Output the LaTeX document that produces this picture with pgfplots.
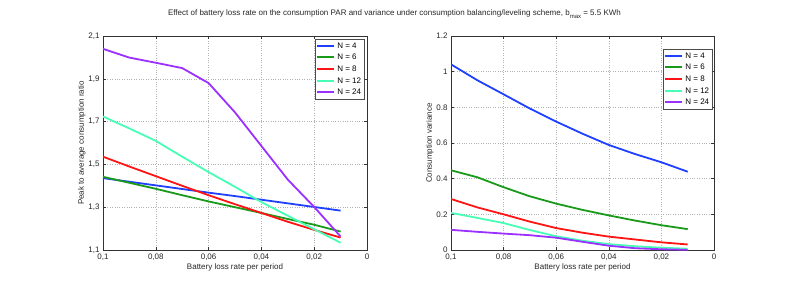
\documentclass[border=0pt]{standalone}
\usepackage{pgfplots}
\pgfplotsset{compat=1.18}
\usepackage{fontspec}
\setmainfont{Liberation Sans}
\definecolor{cN4}{RGB}{32,64,255}
\definecolor{cN6}{RGB}{26,154,26}
\definecolor{cN8}{RGB}{255,20,20}
\definecolor{cN12}{RGB}{70,255,180}
\definecolor{cN24}{RGB}{155,48,255}
\pgfplotsset{
  mstyle/.style={
    scale only axis, width=264pt, height=214pt,
    x dir=reverse, xmin=0, xmax=0.1,
    xtick={0,0.02,0.04,0.06,0.08,0.1},
    xticklabels={0,{0,02},{0,04},{0,06},{0,08},{0,1}},
    tick align=inside, tick pos=both,
    major tick length=3pt,
    axis line style={black!80, line width=0.7pt},
    tick style={black!80, line width=0.5pt},
    grid=major,
    major grid style={black!30, dotted, line width=0.5pt},
    every tick label/.append style={font=\fontsize{8}{9}\selectfont, text=black!85},
    label style={font=\fontsize{8}{9}\selectfont, text=black!85},
    xlabel={Battery loss rate per period},
    xlabel style={yshift=3pt},
    every axis plot/.append style={line width=1.8pt},
    legend cell align=left,
    legend style={font=\fontsize{8}{9}\selectfont, draw=black!70, line width=0.7pt,
      inner xsep=1.5pt, inner ysep=1.5pt, row sep=0.5pt,
      /tikz/every even column/.append style={column sep=0pt}},
    legend image code/.code={\draw[##1, line width=2pt] (0pt,0.4pt) -- (8.5pt,0.4pt) -- (17pt,0.4pt);},
  }
}
\begin{document}
\begin{tikzpicture}
\path[use as bounding box] (0pt,0pt) rectangle (789pt,292pt);
\node[font=\fontsize{8}{9}\selectfont, text=black!85] at (394.5pt,278pt) {Effect of battery loss rate on the consumption PAR and variance under consumption balancing/leveling scheme, b\raisebox{-0.7ex}{\fontsize{6}{6}\selectfont max} = 5.5 KWh};
\begin{axis}[mstyle, at={(103pt,42pt)}, anchor=south west,
  ymin=1.1, ymax=2.1, ytick={1.1,1.3,1.5,1.7,1.9,2.1},
  yticklabels={{1,1},{1,3},{1,5},{1,7},{1,9},{2,1}},
  ylabel={Peak to average consumption ratio}, ylabel style={yshift=-4pt},
  legend style={at={(1,1)}, anchor=north east, xshift=-2pt, yshift=-3pt}]
\addplot[cN4] coordinates {(0.1,1.436)(0.09,1.419)(0.08,1.402)(0.07,1.385)(0.06,1.368)(0.05,1.352)(0.04,1.335)(0.03,1.318)(0.02,1.301)(0.01,1.284)};
\addlegendentry{N = 4}
\addplot[cN6] coordinates {(0.1,1.442)(0.09,1.414)(0.08,1.386)(0.07,1.356)(0.06,1.327)(0.05,1.300)(0.04,1.273)(0.03,1.245)(0.02,1.218)(0.01,1.186)};
\addlegendentry{N = 6}
\addplot[cN8] coordinates {(0.1,1.536)(0.09,1.490)(0.08,1.445)(0.07,1.400)(0.06,1.356)(0.05,1.314)(0.04,1.273)(0.03,1.232)(0.02,1.194)(0.01,1.158)};
\addlegendentry{N = 8}
\addplot[cN12] coordinates {(0.1,1.724)(0.09,1.668)(0.08,1.610)(0.07,1.536)(0.06,1.464)(0.05,1.395)(0.04,1.324)(0.03,1.260)(0.02,1.197)(0.01,1.134)};
\addlegendentry{N = 12}
\addplot[cN24] coordinates {(0.1,2.040)(0.09,1.999)(0.08,1.975)(0.07,1.950)(0.06,1.880)(0.05,1.743)(0.04,1.586)(0.03,1.429)(0.02,1.301)(0.01,1.163)};
\addlegendentry{N = 24}
\end{axis}
\begin{axis}[mstyle, at={(451pt,42pt)}, anchor=south west, width=263pt,
  ymin=0, ymax=1.2, ytick={0,0.2,0.4,0.6,0.8,1,1.2},
  yticklabels={0,0.2,0.4,0.6,0.8,1,1.2},
  ylabel={Consumption variance}, ylabel style={yshift=-4pt},
  legend style={at={(1,1)}, anchor=north east, xshift=-1pt, yshift=-13pt}]
\addplot[cN4] coordinates {(0.1,1.041)(0.09,0.952)(0.08,0.873)(0.07,0.793)(0.06,0.720)(0.05,0.652)(0.04,0.589)(0.03,0.538)(0.02,0.492)(0.01,0.439)};
\addlegendentry{N = 4}
\addplot[cN6] coordinates {(0.1,0.447)(0.09,0.408)(0.08,0.352)(0.07,0.301)(0.06,0.260)(0.05,0.225)(0.04,0.194)(0.03,0.165)(0.02,0.139)(0.01,0.117)};
\addlegendentry{N = 6}
\addplot[cN8] coordinates {(0.1,0.286)(0.09,0.239)(0.08,0.200)(0.07,0.159)(0.06,0.123)(0.05,0.097)(0.04,0.075)(0.03,0.059)(0.02,0.043)(0.01,0.031)};
\addlegendentry{N = 8}
\addplot[cN12] coordinates {(0.1,0.208)(0.09,0.180)(0.08,0.151)(0.07,0.112)(0.06,0.077)(0.05,0.052)(0.04,0.033)(0.03,0.021)(0.02,0.013)(0.01,0.007)};
\addlegendentry{N = 12}
\addplot[cN24] coordinates {(0.1,0.113)(0.09,0.102)(0.08,0.092)(0.07,0.083)(0.06,0.069)(0.05,0.046)(0.04,0.024)(0.03,0.010)(0.02,0.004)(0.01,0.001)};
\addlegendentry{N = 24}
\end{axis}
\end{tikzpicture}
\end{document}
